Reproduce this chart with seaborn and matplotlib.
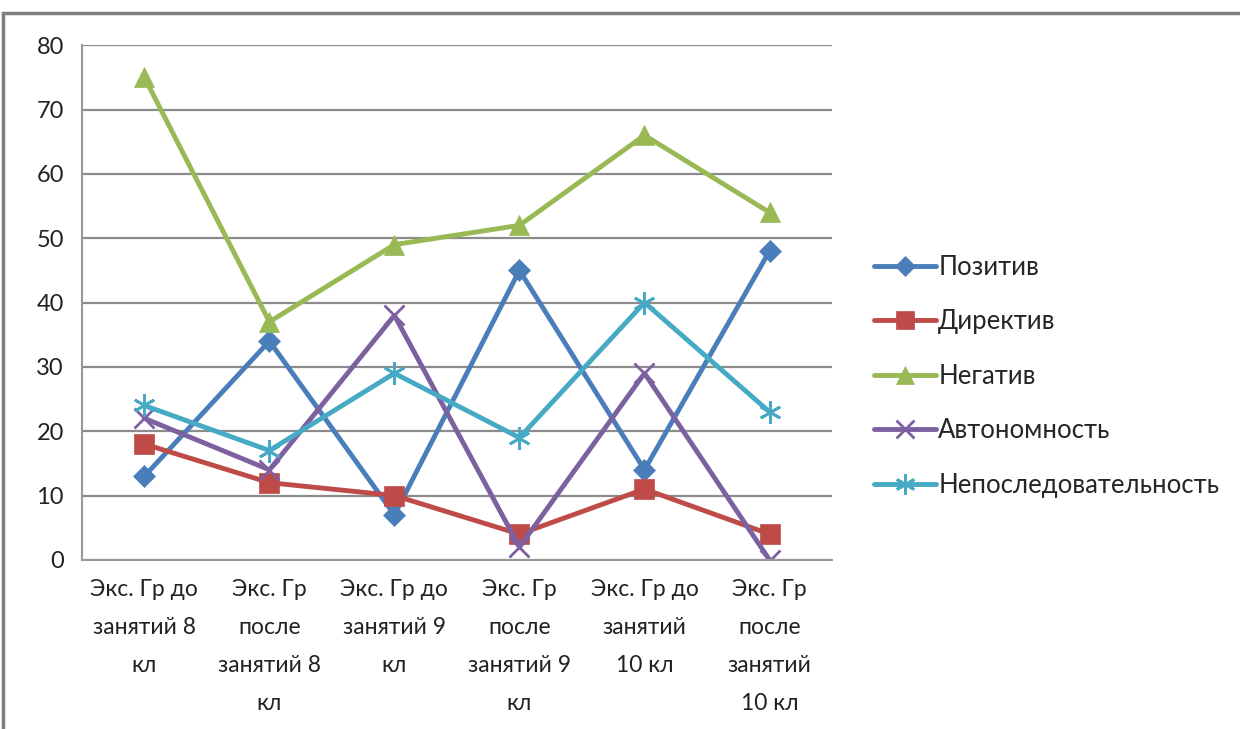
import pandas as pd
import matplotlib.pyplot as plt
import matplotlib.patches as mpatches
import seaborn as sns

# data
categories = [
    "Экс. Гр до\nзанятий 8\nкл",
    "Экс. Гр\nпосле\nзанятий 8\nкл",
    "Экс. Гр до\nзанятий 9\nкл",
    "Экс. Гр\nпосле\nзанятий 9\nкл",
    "Экс. Гр до\nзанятий\n10 кл",
    "Экс. Гр\nпосле\nзанятий\n10 кл",
]
pozitiv = [13, 34, 7, 45, 14, 48]
direktiv = [18, 12, 10, 4, 11, 4]
negativ = [75, 37, 49, 52, 66, 54]
avtonomnost = [22, 14, 38, 2, 29, 0]
neposled = [24, 17, 29, 19, 40, 23]

series = {
    "Позитив": pozitiv,
    "Директив": direktiv,
    "Негатив": negativ,
    "Автономность": avtonomnost,
    "Непоследовательность": neposled,
}
colors = ["#4A7EBB", "#BE4B48", "#98B954", "#7D60A0", "#46AAC5"]
markers = ["D", "s", "^", "x", (6, 2, 0)]
msizes = [11, 14, 14, 14, 16]

sns.set_style("white")
plt.rcParams["font.family"] = ["Lato", "DejaVu Sans"]

fig = plt.figure(figsize=(12.4, 7.29), dpi=100)
ax = fig.add_axes([0.066, 0.232, 0.605, 0.706])

for (name, vals), c, m, ms in zip(series.items(), colors, markers, msizes):
    df = pd.DataFrame({"x": [i + 0.5 for i in range(len(vals))], "y": vals})
    sns.lineplot(data=df, x="x", y="y", ax=ax, color=c, marker=m,
                 markersize=ms, markeredgewidth=2 if m in ("x", (6, 2, 0)) else 0.5,
                 markeredgecolor=c, linewidth=3.5, label=name)

ax.set_xlim(0, 6)
ax.set_ylim(0, 80)
ax.set_yticks(range(0, 81, 10))
ax.set_xticks([i + 0.5 for i in range(6)])
ax.set_xticklabels(categories, fontsize=16.5, color="#222222", linespacing=2.0)
ax.set_xticks(range(7), minor=True)
ax.tick_params(axis="x", which="major", length=0, pad=14)
ax.tick_params(axis="x", which="minor", length=7, color="#888888", width=1.5)
ax.tick_params(axis="y", labelsize=17, length=7, color="#888888", width=1.5,
               labelcolor="#222222", pad=6)
ax.set_xlabel("")
ax.set_ylabel("")
ax.yaxis.grid(True, color="#8c8c8c", linewidth=1.6)
ax.set_axisbelow(True)
for s in ["top", "right"]:
    ax.spines[s].set_visible(False)
for s in ["left", "bottom"]:
    ax.spines[s].set_color("#999999")
    ax.spines[s].set_linewidth(1.5)

ax.legend(loc="center left", bbox_to_anchor=(1.025, 0.357), frameon=False,
          fontsize=18.5, handlelength=2.4, handletextpad=0.1, labelspacing=1.15,
          markerscale=0.9)

# outer chart border
fig.patches.append(mpatches.Rectangle((0.0024, -0.2), 1.5, 1.182, transform=fig.transFigure,
                                      fill=False, edgecolor="#7f7f7f", linewidth=2.5))

fig.savefig("out.png", dpi=100)
